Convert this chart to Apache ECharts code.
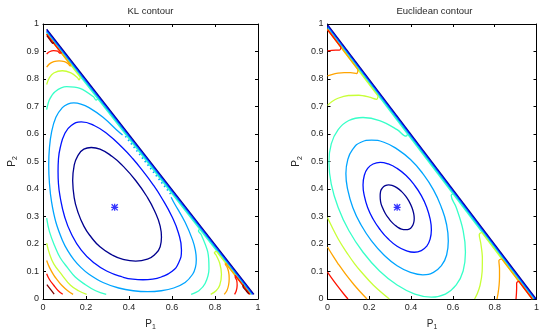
<!DOCTYPE html>
<html>
<head>
<meta charset="utf-8">
<script src="https://cdn.jsdelivr.net/npm/echarts@6.0.0/dist/echarts.min.js"></script>
<style>
html,body{margin:0;padding:0;background:#ffffff;}
#chart{width:542px;height:336px;}
</style>
</head>
<body>
<div id="chart"></div>
<script>
// ================= DATA =================
const titles = ['KL contour', 'Euclidean contour'];
const xTicks = [0, 0.2, 0.4, 0.6, 0.8, 1];
const yTicks = [0, 0.1, 0.2, 0.3, 0.4, 0.5, 0.6, 0.7, 0.8, 0.9, 1];
const centerPoint = [[0.3333, 0.3333]];

// ---- KL contour (left) ----
const klNavy = [[0.138,0.431],[0.145,0.486],[0.16,0.518],[0.19,0.545],[0.2245,0.551],[0.265,0.545],[0.322,0.518],[0.369,0.486],[0.431,0.431],[0.486,0.369],[0.518,0.322],[0.545,0.265],[0.551,0.2245],[0.545,0.19],[0.518,0.16],[0.486,0.145],[0.431,0.138],[0.369,0.145],[0.322,0.16],[0.265,0.19],[0.2245,0.2245],[0.19,0.265],[0.16,0.322],[0.145,0.369],[0.138,0.431]];
const klBlue = [[0.07,0.465],[0.072,0.51],[0.08,0.55],[0.1,0.599],[0.13,0.63],[0.178,0.644],[0.24,0.63],[0.301,0.599],[0.37,0.55],[0.418,0.51],[0.465,0.465],[0.51,0.418],[0.55,0.37],[0.599,0.301],[0.63,0.24],[0.644,0.178],[0.63,0.13],[0.599,0.1],[0.55,0.08],[0.51,0.072],[0.465,0.07],[0.418,0.072],[0.37,0.08],[0.301,0.1],[0.24,0.13],[0.178,0.178],[0.13,0.24],[0.1,0.301],[0.08,0.37],[0.072,0.418],[0.07,0.465]];
const klLightBlue = [[0.37,0.596],[0.352,0.608],[0.279,0.661],[0.214,0.696],[0.176,0.709],[0.1435,0.713],[0.115,0.709],[0.09,0.696],[0.06,0.661],[0.04,0.608],[0.03,0.55],[0.0265,0.487],[0.03,0.42],[0.04,0.352],[0.06,0.279],[0.09,0.214],[0.115,0.176],[0.1435,0.1435],[0.176,0.115],[0.214,0.09],[0.279,0.06],[0.352,0.04],[0.42,0.03],[0.487,0.0265],[0.55,0.03],[0.608,0.04],[0.661,0.06],[0.696,0.09],[0.709,0.115],[0.713,0.1435],[0.709,0.176],[0.696,0.214],[0.661,0.279],[0.608,0.352],[0.596,0.37]];
const klLightBlueDots = [[0.383,0.592],[0.597,0.378]];
const klAquaTop = [[0.017,0.689],[0.03,0.725],[0.056,0.754],[0.11,0.772],[0.172,0.766],[0.234,0.736],[0.247,0.723],[0.254,0.728]];
const klAquaRight = [[0.689,0.017],[0.725,0.03],[0.754,0.056],[0.772,0.11],[0.766,0.172],[0.736,0.234],[0.723,0.247],[0.728,0.254]];
const klAquaLeft = [[0.017,0.294],[0.03,0.245],[0.056,0.19],[0.08,0.15],[0.114,0.114],[0.15,0.08],[0.19,0.056],[0.245,0.03],[0.294,0.017]];
const klYgTop = [[0.017,0.78],[0.03,0.805],[0.05,0.822],[0.09,0.83],[0.13,0.822],[0.16,0.805],[0.168,0.797],[0.174,0.806]];
const klYgRight = [[0.78,0.017],[0.805,0.03],[0.822,0.05],[0.83,0.09],[0.822,0.13],[0.805,0.16],[0.797,0.168],[0.806,0.174]];
const klYgLeft = [[0.017,0.203],[0.03,0.165],[0.05,0.128],[0.088,0.088],[0.128,0.05],[0.165,0.03],[0.203,0.017]];
const klOrangeTop = [[0.017,0.843],[0.03,0.855],[0.05,0.863],[0.075,0.866],[0.1,0.863],[0.118,0.855],[0.126,0.848],[0.131,0.849]];
const klOrangeRight = [[0.843,0.017],[0.855,0.03],[0.863,0.05],[0.866,0.075],[0.863,0.1],[0.855,0.118],[0.848,0.126],[0.849,0.131]];
const klOrangeLeft = [[0.017,0.14],[0.03,0.115],[0.05,0.087],[0.068,0.068],[0.087,0.05],[0.115,0.03],[0.14,0.017]];
const klRedTop = [[0.017,0.891],[0.03,0.899],[0.05,0.903],[0.068,0.901],[0.08,0.894],[0.086,0.894]];
const klRedRight = [[0.891,0.017],[0.899,0.03],[0.903,0.05],[0.901,0.068],[0.894,0.08],[0.894,0.086]];
const klRedLeft = [[0.017,0.092],[0.03,0.071],[0.05,0.05],[0.071,0.03],[0.092,0.017]];
const klDarkRedTop = [[0.018,0.958],[0.03,0.945],[0.045,0.93],[0.052,0.932]];
const klDarkRedRight = [[0.958,0.018],[0.945,0.03],[0.93,0.045],[0.932,0.052]];
const klDarkRedLeft = [[0.018,0.052],[0.035,0.035],[0.052,0.018]];
const klBandNavy = [[0.017,0.981],[0.981,0.017]];
const klBandBlue = [[0.017,0.976],[0.976,0.017]];
const klBandLightBlue = [[0.017,0.971],[0.971,0.017]];
const klBandAqua = [[0.017,0.966],[0.966,0.017]];
const klBandYgTop = [[0.017,0.963],[0.174,0.806]];
const klBandYgRight = [[0.806,0.174],[0.963,0.017]];
const klBandOrangeTop = [[0.017,0.963],[0.131,0.849]];
const klBandOrangeRight = [[0.849,0.131],[0.963,0.017]];
const klBandRedTop = [[0.017,0.963],[0.086,0.894]];
const klBandRedRight = [[0.894,0.086],[0.963,0.017]];

// ---- Euclidean contour (right) ----
const euNavy = [[0.404,0.263],[0.412,0.276],[0.415,0.293],[0.412,0.312],[0.404,0.333],[0.391,0.354],[0.374,0.374],[0.354,0.391],[0.333,0.404],[0.312,0.412],[0.293,0.415],[0.276,0.412],[0.263,0.404],[0.254,0.391],[0.252,0.374],[0.254,0.354],[0.263,0.333],[0.276,0.312],[0.293,0.293],[0.312,0.276],[0.333,0.263],[0.354,0.254],[0.374,0.252],[0.391,0.254],[0.404,0.263]];
const euBlue = [[0.475,0.192],[0.491,0.218],[0.497,0.252],[0.491,0.291],[0.475,0.333],[0.449,0.376],[0.415,0.415],[0.376,0.449],[0.333,0.475],[0.291,0.491],[0.252,0.497],[0.218,0.491],[0.192,0.475],[0.176,0.449],[0.17,0.415],[0.176,0.376],[0.192,0.333],[0.218,0.291],[0.252,0.252],[0.291,0.218],[0.333,0.192],[0.376,0.176],[0.415,0.17],[0.449,0.176],[0.475,0.192]];
const euLightBlue = [[0.545,0.121],[0.57,0.16],[0.578,0.211],[0.57,0.27],[0.545,0.333],[0.507,0.397],[0.456,0.456],[0.397,0.507],[0.333,0.545],[0.27,0.57],[0.211,0.578],[0.16,0.57],[0.121,0.545],[0.097,0.507],[0.088,0.456],[0.097,0.397],[0.121,0.333],[0.16,0.27],[0.211,0.211],[0.27,0.16],[0.333,0.121],[0.397,0.097],[0.456,0.088],[0.507,0.097],[0.545,0.121]];
const euAqua = [[0.6,0.383],[0.592,0.376],[0.616,0.333],[0.649,0.249],[0.66,0.17],[0.649,0.102],[0.616,0.051],[0.564,0.018],[0.497,0.007],[0.418,0.018],[0.333,0.051],[0.249,0.102],[0.17,0.17],[0.102,0.249],[0.051,0.333],[0.018,0.418],[0.007,0.497],[0.018,0.564],[0.051,0.616],[0.102,0.649],[0.17,0.66],[0.249,0.649],[0.333,0.616],[0.376,0.592],[0.383,0.6]];
const euYgTop = [[0,0.704],[0.02,0.717],[0.05,0.73],[0.1,0.74],[0.15,0.741],[0.2,0.734],[0.235,0.726],[0.242,0.738]];
const euYgRight = [[0.704,0],[0.717,0.02],[0.73,0.05],[0.74,0.1],[0.741,0.15],[0.734,0.2],[0.726,0.235],[0.738,0.242]];
const euYgLeft = [[0,0.296],[0.05,0.22],[0.1,0.16],[0.129,0.129],[0.16,0.1],[0.22,0.05],[0.296,0]];
const euOrangeTop = [[0,0.811],[0.02,0.816],[0.05,0.821],[0.08,0.823],[0.11,0.823],[0.14,0.82],[0.146,0.834]];
const euOrangeRight = [[0.811,0],[0.816,0.02],[0.821,0.05],[0.823,0.08],[0.823,0.11],[0.82,0.14],[0.834,0.146]];
const euOrangeLeft = [[0,0.189],[0.03,0.152],[0.05,0.129],[0.0884,0.0884],[0.129,0.05],[0.152,0.03],[0.189,0]];
const euRedTop = [[0,0.902],[0.02,0.904],[0.04,0.905],[0.058,0.905],[0.065,0.915]];
const euRedRight = [[0.902,0],[0.904,0.02],[0.905,0.04],[0.905,0.058],[0.915,0.065]];
const euRedLeft = [[0,0.098],[0.02,0.076],[0.0476,0.0476],[0.076,0.02],[0.098,0]];
const euBandNavy = [[0,0.998],[0.998,0]];
const euBandBlue = [[0,0.993],[0.993,0]];
const euBandLightBlue = [[0,0.988],[0.988,0]];
const euBandAqua = [[0,0.983],[0.983,0]];
const euBandYgTop = [[0,0.98],[0.242,0.738]];
const euBandYgRight = [[0.738,0.242],[0.98,0]];
const euBandOrangeTop = [[0,0.98],[0.146,0.834]];
const euBandOrangeRight = [[0.834,0.146],[0.98,0]];
const euBandRedTop = [[0,0.98],[0.065,0.915]];
const euBandRedRight = [[0.915,0.065],[0.98,0]];

// ================= STYLE / LAYOUT =================
const FONT = 'Liberation Sans, Arial, Helvetica, sans-serif';
const TXT = '#262626';
const COL = {navy:'#00008F', blue:'#0012FF', lblue:'#00A4FF', aqua:'#37FFC8', yg:'#C8FF37', orange:'#FFA400', red:'#FF1200', dred:'#800000'};
const grids = [
  {left:43, top:24, width:215, height:282},
  {left:327.5, top:24, width:214, height:282}
];

const specs = [
  [ // KL
    [klBandNavy,'navy',0],[klBandBlue,'blue',0],[klBandLightBlue,'lblue',0],[klBandAqua,'aqua',0],
    [klBandYgTop,'yg',0],[klBandYgRight,'yg',0],[klBandOrangeTop,'orange',0],[klBandOrangeRight,'orange',0],
    [klBandRedTop,'red',0],[klBandRedRight,'red',0],
    [klNavy,'navy',0.5],[klBlue,'blue',0.5],[klLightBlue,'lblue',0.4],[klLightBlueDots,'lblue',0,'dots'],
    [klAquaTop,'aqua',0.3],[klAquaRight,'aqua',0.3],[klAquaLeft,'aqua',0.4],
    [klYgTop,'yg',0.3],[klYgRight,'yg',0.3],[klYgLeft,'yg',0.4],
    [klOrangeTop,'orange',0.3],[klOrangeRight,'orange',0.3],[klOrangeLeft,'orange',0.4],
    [klRedTop,'red',0.3],[klRedRight,'red',0.3],[klRedLeft,'red',0.4],
    [klDarkRedTop,'dred',0.2],[klDarkRedRight,'dred',0.2],[klDarkRedLeft,'dred',0.3]
  ],
  [ // Euclidean
    [euBandNavy,'navy',0],[euBandBlue,'blue',0],[euBandLightBlue,'lblue',0],[euBandAqua,'aqua',0],
    [euBandYgTop,'yg',0],[euBandYgRight,'yg',0],[euBandOrangeTop,'orange',0],[euBandOrangeRight,'orange',0],
    [euBandRedTop,'red',0],[euBandRedRight,'red',0],
    [euNavy,'navy',0.5],[euBlue,'blue',0.5],[euLightBlue,'lblue',0.5],[euAqua,'aqua',0.4],
    [euYgTop,'yg',0.3],[euYgRight,'yg',0.3],[euYgLeft,'yg',0.4],
    [euOrangeTop,'orange',0.3],[euOrangeRight,'orange',0.3],[euOrangeLeft,'orange',0.4],
    [euRedTop,'red',0.3],[euRedRight,'red',0.3],[euRedLeft,'red',0.4]
  ]
];

const nameRich = {
  p:{fontSize:10, fontFamily:FONT, color:TXT, lineHeight:14},
  s:{fontSize:7, fontFamily:FONT, color:TXT, lineHeight:8, verticalAlign:'bottom'}
};

const xAxes = [], yAxes = [], series = [], titleOpts = [];
grids.forEach((g, gi) => {
  const base = {
    gridIndex: gi, type:'value', min: xTicks[0], max: xTicks[xTicks.length-1],
    splitLine:{show:false},
    axisLine:{onZero:false, lineStyle:{color:'#000', width:1}},
    axisTick:{inside:true, length:3, lineStyle:{color:'#000', width:1}}
  };
  const lbl = {fontSize:9, color:TXT, fontFamily:FONT, margin:4};
  xAxes.push(Object.assign({}, base, {position:'bottom', interval: xTicks[1]-xTicks[0],
    axisLabel: lbl, name:'{p|P}{s|1}', nameLocation:'middle', nameGap:18,
    nameTextStyle:{rich:nameRich}}));
  xAxes.push(Object.assign({}, base, {position:'top', interval: xTicks[1]-xTicks[0], axisLabel:{show:false}}));
  yAxes.push(Object.assign({}, base, {min:yTicks[0], max:yTicks[yTicks.length-1], position:'left', interval: 0.1,
    axisLabel: lbl, name:'{p|P}{s|2}', nameLocation:'middle', nameGap:24, nameRotate:90,
    nameTextStyle:{rich:nameRich}}));
  yAxes.push(Object.assign({}, base, {min:yTicks[0], max:yTicks[yTicks.length-1], position:'right', interval: 0.1, axisLabel:{show:false}}));

  titleOpts.push({text: titles[gi], left: g.left + g.width/2, top: 6, textAlign:'center', padding:0,
    textStyle:{fontSize:9.5, fontWeight:'normal', color:TXT, fontFamily:FONT}});

  specs[gi].forEach(sp => {
    const [data, ck, sm, dash] = sp;
    series.push({
      type:'line', xAxisIndex: gi*2, yAxisIndex: gi*2, data: data,
      showSymbol:false, symbol:'none', smooth: sm || false,
      lineStyle:{color: COL[ck], width: dash ? 1.6 : 1.3, type: dash ? [1.5,3] : 'solid'},
      silent:true, z:2
    });
  });
  series.push({
    type:'scatter', xAxisIndex: gi*2, yAxisIndex: gi*2, data: centerPoint,
    symbol:'path://M4.1,0H5.9V10H4.1Z M0,4.1H10V5.9H0Z M1.3,0L10,8.7L8.7,10L0,1.3Z M8.7,0L10,1.3L1.3,10L0,8.7Z',
    symbolSize:7, itemStyle:{color:'#0000FF'}, z:5, silent:true
  });
});

const chart = echarts.init(document.getElementById('chart'), null, {renderer:'canvas'});
chart.setOption({
  animation:false,
  backgroundColor:'#ffffff',
  title: titleOpts,
  grid: grids,
  xAxis: xAxes,
  yAxis: yAxes,
  series: series
});
</script>
</body>
</html>
